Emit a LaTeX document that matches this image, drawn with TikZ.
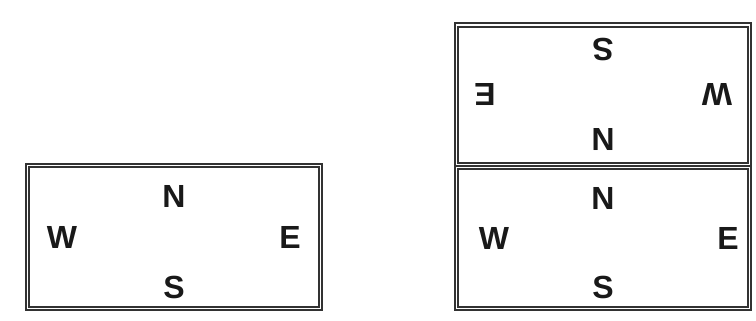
\documentclass[tikz,border=0pt]{standalone}
\usepackage{fontspec}
\setmainfont{Liberation Sans}
\usetikzlibrary{positioning}
\definecolor{framegray}{RGB}{50,50,50}
\definecolor{polecolor}{RGB}{25,25,25}
\tikzset{
  magnet/.style = {draw=framegray, line width=1.7pt, double=white, double distance=1.8pt,
                   minimum width=293pt, inner sep=0pt},
  pole/.style   = {font=\bfseries\fontsize{32}{40}\selectfont, text=polecolor, inner sep=0pt},
}

\begin{document}
\begin{tikzpicture}[x=1pt, y=1pt]
  \useasboundingbox (0,0) rectangle (756,321);

  % single magnet
  \node[magnet, minimum height=143pt] (m1) at (174,84) {};
  % stacked pair, the top one turned round
  \node[magnet, minimum height=140pt] (m2) at (603,226) {};
  \node[magnet, minimum height=141pt] (m3) at (603,83) {};

  % pole labels (name/turn/N/S/W/E distances)
  \foreach \m/\r/\dn/\ds/\dw/\de in {m1/0/41/50/112/116, m2/180/45/45/114/118, m3/0/40/49/109/125} {
    \node[pole, rotate=\r] (\m n) at ([shift={(90+\r:\dn)}]\m.center) {N};
    \node[pole, rotate=\r] (\m s) at ([shift={(270+\r:\ds)}]\m.center) {S};
    \node[pole, rotate=\r] (\m w) at ([shift={(180+\r:\dw)}]\m.center) {W};
    \node[pole, rotate=\r] (\m e) at ([shift={(\r:\de)}]\m.center) {E};
  }
\end{tikzpicture}
\end{document}
